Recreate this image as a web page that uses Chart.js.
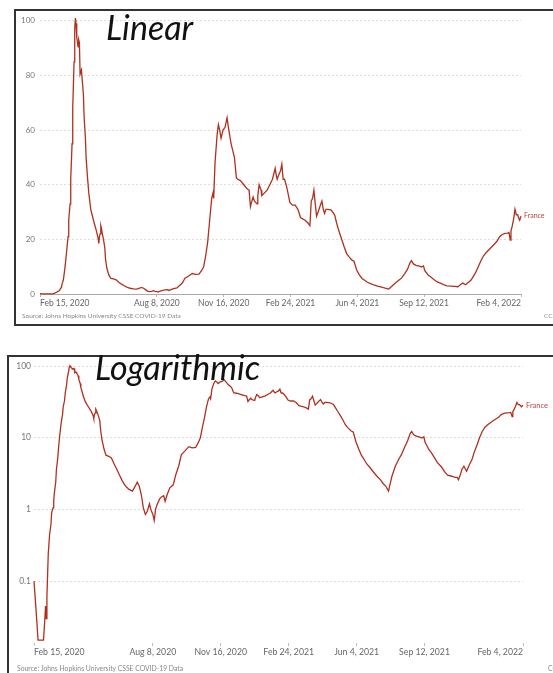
<!DOCTYPE html>
<html>
<head>
<meta charset="utf-8">
<script src="https://cdn.jsdelivr.net/npm/chart.js@4/dist/chart.umd.min.js"></script>
<style>
  html, body { margin: 0; padding: 0; background: #fff; }
  body { width: 553px; height: 673px; overflow: hidden; position: relative; font-family: Lato, sans-serif; }
  .panel { position: absolute; box-sizing: border-box; border: 2px solid #333; background: #fff; }
  .cv { position: absolute; }
  .title { position: absolute; font-family: Lato, sans-serif; font-style: italic; font-size: 34px; line-height: 34px; color: #111; white-space: nowrap; }
  .note { position: absolute; font-family: Lato, sans-serif; font-size: 6.5px; line-height: 8px; color: #888; white-space: nowrap; }
</style>
</head>
<body>
<div class="panel" style="left:14px;top:9px;width:600px;height:317px;"></div>
<div class="panel" style="left:7px;top:355px;width:600px;height:400px;"></div>
<canvas id="linChart" class="cv" style="left:16px;top:11px;" width="537" height="312"></canvas>
<canvas id="logChart" class="cv" style="left:9px;top:357px;" width="544" height="316"></canvas>
<div class="title" style="left:106px;top:10px;">Linear</div>
<div class="title" style="left:95px;top:350px;">Logarithmic</div>
<div class="note" style="left:22px;top:312px;">Source: Johns Hopkins University CSSE COVID-19 Data</div>
<div class="note" style="left:544px;top:312px;">CC BY</div>
<div class="note" style="left:17px;top:664px;font-size:6.8px;">Source: Johns Hopkins University CSSE COVID-19 Data</div>
<div class="note" style="left:548px;top:664px;font-size:6.8px;">CC BY</div>
<script>
// Days since Feb 15, 2020
const dayOffsets = [0,3,6,10,14,16,17,18,19,20,21,23,25,26,28,29,30,32,33,35,36,38,40,42,43,45,46,48,49,51,52,53,54,55,57,58,59,60,62,63,65,66,68,69,71,73,76,80,84,87,88,89,90,91,92,93,95,97,98,100,103,106,110,114,118,122,126,130,135,140,145,150,152,155,158,161,164,167,170,172,175,177,179,181,185,188,191,193,196,200,205,209,213,217,222,228,233,238,242,245,248,251,254,257,259,260,262,265,267,269,271,274,277,280,282,286,288,291,294,296,300,305,310,313,315,316,319,321,325,326,328,331,332,336,340,344,348,352,354,355,358,360,362,364,366,369,372,374,378,382,386,390,393,397,401,404,406,408,410,412,414,417,419,422,424,426,428,431,436,441,444,447,452,455,459,463,467,470,474,478,482,486,490,494,500,505,510,514,518,522,523,527,532,537,541,546,550,554,556,559,563,568,571,574,576,579,581,585,590,594,600,605,609,615,620,623,625,628,630,633,637,641,645,648,652,656,660,664,668,672,676,680,684,688,692,696,700,702,704,705,707,709,711,713,715,717,718,720];
const franceValues = [0.1,0.04,0.015,0.015,0.015,0.03,0.045,0.03,0.06,0.12,0.24,0.45,0.62,0.9,1.05,1.3,1.7,2.4,3.6,5.2,7,11,16,21,27,33,42,55,68,85,97,101,99,94,90.5,93,92,80.5,82,79,73,65,57,50,43,37,31,27,23.5,20.5,18.5,21,22,25,24,22.5,20,17,13,9.5,7,5.7,5.5,5.2,4.3,3.6,3.0,2.5,2.1,1.9,1.8,2.2,2.4,2.1,1.6,1.05,0.85,0.95,1.2,1.0,0.85,0.7,1.0,1.15,1.4,1.5,1.55,1.3,1.6,2.0,2.2,3.1,4.0,5.8,6.5,7.5,7.2,7.3,8.6,10,14,19,27,35,37,35,48,58,62,60,57,60,61,64.5,61,55,53,50,42.5,42,41.5,40,38.5,38,32,33,35.5,34,33,36,40,38,36,37,38,40,42,46,43,42,44,45,47.5,42,42,39.5,36,33.5,32.5,32.5,31,28,27.5,27,26,25,34,35,38,33,28.5,30.5,32,34,31,29.5,31,31,30.7,29,26,23.4,19.7,17.5,14.8,13.5,12.4,12,8.8,7,5.7,5,4.3,3.9,3.3,2.9,2.6,2.3,2.1,1.8,2.0,2.9,4.0,5.0,5.8,7.5,9.0,11.5,12.2,11,10.5,10.2,9.9,10.3,8.5,7.6,6.9,6.2,5.2,4.5,3.9,3.3,3.0,2.9,2.8,2.8,2.6,3.1,3.6,4.0,3.4,4.2,5.0,6.2,7.8,10,12.2,14,15.2,16.2,17.2,18.2,19.3,21,21.8,22.2,22.3,22.5,19.7,23,25,27.5,31,29,29,27.5,27,28.5];
const seriesName = 'France';
const tickDays = [0,175,275,375,475,575,720];
const tickLabels = ['Feb 15, 2020','Aug 8, 2020','Nov 16, 2020','Feb 24, 2021','Jun 4, 2021','Sep 12, 2021','Feb 4, 2022'];
const linearTicks = [0,20,40,60,80,100];
const logTicks = [0.1,1,10,100];

const LINE = '#b0301e';
Chart.defaults.font.family = 'Lato, sans-serif';
Chart.defaults.color = '#777';
Chart.defaults.animation = false;

const points = dayOffsets.map((d, i) => ({ x: d, y: franceValues[i] }));

const endLabel = {
  id: 'endLabel',
  afterDatasetsDraw(chart, args, opts) {
    const meta = chart.getDatasetMeta(0);
    const p = meta.data[meta.data.length - 1];
    const ctx = chart.ctx;
    ctx.save();
    ctx.font = opts.size + 'px Lato, sans-serif';
    ctx.fillStyle = '#b5453a';
    ctx.textBaseline = 'middle';
    ctx.textAlign = 'left';
    ctx.fillText(seriesName, p.x + 3, p.y);
    ctx.restore();
  }
};

function makeChart(id, isLog, cfg) {
  const yScale = isLog ? {
    type: 'logarithmic', min: 0.0137, max: 100,
    afterBuildTicks: (ax) => { ax.ticks = logTicks.map(v => ({ value: v })); },
    afterFit: (ax) => { ax.width = cfg.yWidth; },
    ticks: { padding: cfg.yPad, font: { size: cfg.yFont }, color: '#777', callback: (v) => String(v) },
    grid: { color: '#dcdcdc', drawTicks: false, lineWidth: 1 },
    border: { display: false, dash: [2, 2] }
  } : {
    type: 'linear', min: 0, max: 100,
    afterBuildTicks: (ax) => { ax.ticks = linearTicks.map(v => ({ value: v })); },
    afterFit: (ax) => { ax.width = cfg.yWidth; },
    ticks: { padding: cfg.yPad, font: { size: cfg.yFont }, color: '#777' },
    grid: { color: (c) => c.tick && c.tick.value === 0 ? 'rgba(0,0,0,0)' : '#dcdcdc', drawTicks: false, lineWidth: 1 },
    border: { display: false, dash: [2, 2] }
  };
  return new Chart(document.getElementById(id), {
    type: 'line',
    data: { datasets: [{ label: seriesName, data: points, borderColor: LINE, borderWidth: 1.3, pointRadius: 0, tension: 0, fill: false, clip: false }] },
    options: {
      responsive: false, maintainAspectRatio: false,
      layout: { padding: { top: cfg.padTop, right: cfg.padRight, left: 0, bottom: 0 } },
      plugins: { legend: { display: false }, tooltip: { enabled: false }, endLabel: { size: cfg.labelFont } },
      scales: {
        x: {
          type: 'linear', min: 0, max: 720,
          afterBuildTicks: (ax) => { ax.ticks = tickDays.map(v => ({ value: v })); },
          afterFit: (ax) => { ax.height = cfg.xHeight; },
          ticks: { align: 'inner', maxRotation: 0, autoSkip: false, padding: 1, font: { size: cfg.xFont }, color: '#666',
            callback: (v) => { const i = tickDays.indexOf(v); return i >= 0 ? tickLabels[i] : ''; } },
          grid: { drawOnChartArea: false, drawTicks: true, tickLength: 3, color: '#bbb' },
          border: { display: !isLog, color: '#aaa', width: 1 }
        },
        y: yScale
      }
    },
    plugins: [endLabel]
  });
}

makeChart('linChart', false, { yWidth: 24, yPad: 5, yFont: 8, xFont: 8.5, xHeight: 29, padTop: 9, padRight: 32, labelFont: 7 });
makeChart('logChart', true, { yWidth: 25, yPad: 3, yFont: 8.5, xFont: 8.7, xHeight: 30, padTop: 9, padRight: 30, labelFont: 7.5 });
</script>
</body>
</html>
